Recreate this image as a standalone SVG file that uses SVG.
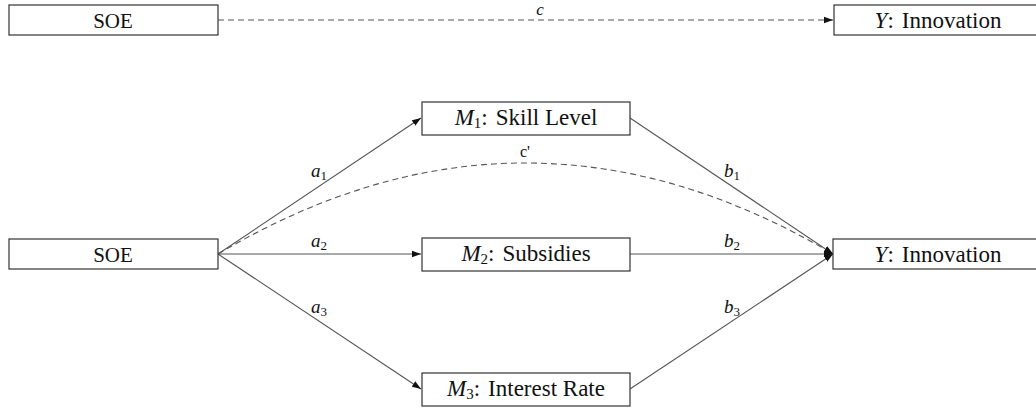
<svg xmlns="http://www.w3.org/2000/svg" width="1036" height="408" viewBox="0 0 1036 408">
<style>
.box{fill:#fff;stroke:#333;stroke-width:1.2}
.t{font-family:"Liberation Serif",serif;font-size:21px;fill:#111;text-anchor:middle}
.w{font-size:23px}
.i{font-style:italic}
.lab{font-family:"Liberation Serif",serif;font-size:19px;font-style:italic;fill:#111;text-anchor:middle}
.sub{font-size:13px;font-style:normal}
.e{stroke:#555;stroke-width:1.1;fill:none;marker-end:url(#ah)}
.d{stroke:#555;stroke-width:1.1;fill:none;stroke-dasharray:6 4}
</style>
<defs>
<marker id="ah" markerWidth="10" markerHeight="8" refX="9" refY="4" orient="auto" markerUnits="userSpaceOnUse">
<path d="M0,0.8 L9,4 L0,7.2 Z" fill="#111"/>
</marker>
</defs>
<g id="connectors">
<path class="d" d="M218,20 L833,20" marker-end="url(#ah)"/>
<path class="e" d="M218,254 L421,118"/>
<path class="e" d="M218,254 L421,254"/>
<path class="e" d="M218,254 L421,389"/>
<path class="e" d="M630,118 L833,254"/>
<path class="e" d="M630,254 L833,254"/>
<path class="e" d="M630,389 L833,254"/>
<path class="d" d="M218,254 Q525,72 833,254" marker-end="url(#ah)"/>
<text class="lab" x="540" y="15" style="font-size:17px">c</text>
<text class="lab" x="525" y="157" style="font-style:normal;font-size:16px">c'</text>
<text class="lab" x="319" y="177">a<tspan class="sub" dy="3">1</tspan></text>
<text class="lab" x="319" y="247">a<tspan class="sub" dy="3">2</tspan></text>
<text class="lab" x="319" y="313">a<tspan class="sub" dy="3">3</tspan></text>
<text class="lab" x="732" y="177">b<tspan class="sub" dy="3">1</tspan></text>
<text class="lab" x="732" y="247">b<tspan class="sub" dy="3">2</tspan></text>
<text class="lab" x="732" y="313">b<tspan class="sub" dy="3">3</tspan></text>
</g>
<g id="soe-top">
<rect class="box" x="9" y="5" width="209" height="30"/>
<text class="t" x="113" y="28">SOE</text>
</g>
<g id="y-top">
<rect class="box" x="834" y="5" width="209" height="30"/>
<text class="t w" x="938" y="28"><tspan class="i">Y</tspan>:<tspan dx="8">Innovation</tspan></text>
</g>
<g id="soe">
<rect class="box" x="9" y="239" width="209" height="30"/>
<text class="t" x="113" y="262">SOE</text>
</g>
<g id="y">
<rect class="box" x="833" y="239" width="209" height="30"/>
<text class="t w" x="938" y="262"><tspan class="i">Y</tspan>:<tspan dx="8">Innovation</tspan></text>
</g>
<g id="m1">
<rect class="box" x="422" y="102" width="208" height="33"/>
<text class="t w" x="526" y="125"><tspan class="i">M</tspan><tspan font-size="15" dy="3">1</tspan><tspan dy="-3">:</tspan><tspan dx="8">Skill Level</tspan></text>
</g>
<g id="m2">
<rect class="box" x="422" y="238" width="208" height="33"/>
<text class="t w" x="526" y="261"><tspan class="i">M</tspan><tspan font-size="15" dy="3">2</tspan><tspan dy="-3">:</tspan><tspan dx="8">Subsidies</tspan></text>
</g>
<g id="m3">
<rect class="box" x="422" y="373" width="208" height="33"/>
<text class="t w" x="526" y="396"><tspan class="i">M</tspan><tspan font-size="15" dy="3">3</tspan><tspan dy="-3">:</tspan><tspan dx="8">Interest Rate</tspan></text>
</g>
</svg>
